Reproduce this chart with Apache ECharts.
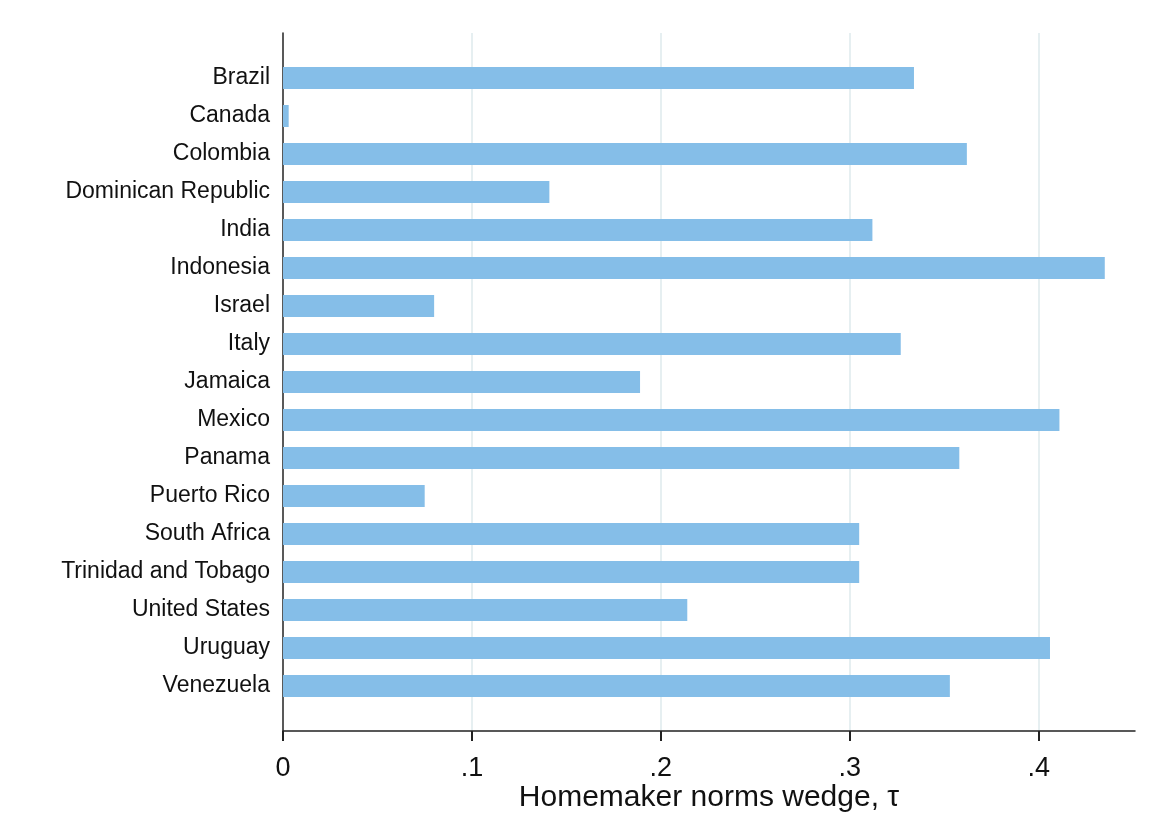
<!DOCTYPE html>
<html>
<head>
<meta charset="utf-8">
<script src="https://cdn.jsdelivr.net/npm/echarts@6/dist/echarts.min.js"></script>
<style>
  html, body { margin: 0; padding: 0; background: #fff; }
  #chart { width: 1156px; height: 839px; }
</style>
</head>
<body>
<div id="chart"></div>
<script>
// countries, top to bottom
const countries = [
    'Brazil', 'Canada', 'Colombia', 'Dominican Republic', 'India', 'Indonesia',
    'Israel', 'Italy', 'Jamaica', 'Mexico', 'Panama', 'Puerto Rico',
    'South Africa', 'Trinidad and Tobago', 'United States', 'Uruguay', 'Venezuela'
];
// homemaker norms wedge (tau)
const wedge = [
    0.334, 0.003, 0.362, 0.141, 0.312, 0.435,
    0.080, 0.327, 0.189, 0.411, 0.358, 0.075,
    0.305, 0.305, 0.214, 0.406, 0.353
];
const xTicks = [0, 0.1, 0.2, 0.3, 0.4];
const xMax = 0.451;

const fontFamily = '"Liberation Sans", Arial, sans-serif';

const chart = echarts.init(document.getElementById('chart'));

const tickLabel = v => (v === 0 ? '0' : String(+v.toFixed(1)).replace(/^0/, ''));

const option = {
    animation: false,
    textStyle: { fontFamily: fontFamily },
    grid: [
        // frame: axis lines, gridlines, ticks
        { left: 283, right: 21, top: 33, bottom: 108 },
        // bars
        { left: 283, right: 21, top: 59, bottom: 134 }
    ],
    xAxis: [
        {
            gridIndex: 0,
            type: 'value',
            min: xTicks[0],
            max: xMax,
            interval: 0.1,
            name: 'Homemaker norms wedge, \u03c4',
            nameLocation: 'middle',
            nameGap: 52,
            nameMoveOverlap: false,
            nameTextStyle: { fontSize: 30, color: '#111', fontFamily: fontFamily },
            axisLine: { show: true, onZero: false, lineStyle: { color: '#222', width: 1.5 } },
            axisTick: { show: true, inside: false, length: 10, lineStyle: { color: '#222', width: 2 } },
            axisLabel: {
                fontSize: 27, color: '#111', margin: 24,
                formatter: tickLabel,
                showMaxLabel: false
            },
            splitLine: {
                show: true, showMinLine: false, showMaxLine: false,
                lineStyle: { color: '#e6eff1', width: 2 }
            }
        },
        {
            gridIndex: 1,
            type: 'value',
            min: xTicks[0],
            max: xMax,
            show: false
        }
    ],
    yAxis: [
        {
            gridIndex: 0,
            type: 'value',
            min: 0,
            max: 1,
            axisLine: { show: true, onZero: false, lineStyle: { color: '#222', width: 1.5 } },
            axisTick: { show: false },
            axisLabel: { show: false },
            splitLine: { show: false }
        },
        {
            gridIndex: 1,
            type: 'category',
            data: countries,
            inverse: true,
            axisLine: { show: false },
            axisTick: { show: false },
            axisLabel: { fontSize: 23, color: '#111', margin: 13 }
        }
    ],
    series: [
        {
            type: 'bar',
            xAxisIndex: 1,
            yAxisIndex: 1,
            data: wedge,
            barWidth: 22,
            itemStyle: { color: '#85bee8' },
            z: 3
        }
    ]
};

chart.setOption(option);
window.addEventListener('resize', () => chart.resize());
</script>
</body>
</html>
